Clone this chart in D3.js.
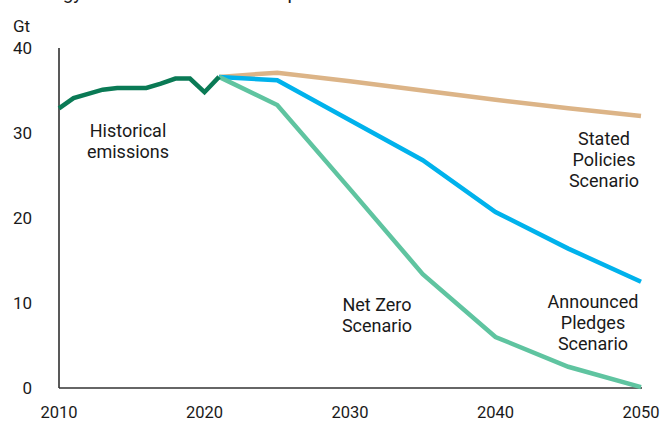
<!DOCTYPE html>
<html>
<head>
<meta charset="utf-8">
<script src="https://d3js.org/d3.v7.min.js"></script>
<style>
  body { margin: 0; background: #fff; }
  text { font-family: Roboto, "Noto Sans", sans-serif; fill: #1a1a1a; }
</style>
</head>
<body>
<div id="chart"></div>
<script>
// years and values (Gt CO2)
var histYears = [2010, 2011, 2012, 2013, 2014, 2015, 2016, 2017, 2018, 2019, 2020, 2021];
var histValues = [32.9, 34.1, 34.6, 35.1, 35.3, 35.3, 35.3, 35.8, 36.4, 36.4, 34.8, 36.6];

var scenYears = [2021, 2025, 2030, 2035, 2040, 2045, 2050];
var stepsValues = [36.6, 37.1, 36.1, 35.0, 33.9, 32.9, 32.0];
var apsValues = [36.6, 36.2, 31.5, 26.8, 20.7, 16.4, 12.5];
var nzeValues = [36.6, 33.3, 23.4, 13.4, 6.0, 2.5, 0.1];

var xTicks = [2010, 2020, 2030, 2040, 2050];
var yTicks = [0, 10, 20, 30, 40];

var W = 671, H = 423;
var margin = {top: 48, right: 30, bottom: 35, left: 59};

var svg = d3.select("#chart").append("svg")
  .attr("width", W)
  .attr("height", H);

var x = d3.scaleLinear().domain([2010, 2050]).range([margin.left, W - margin.right]);
var y = d3.scaleLinear().domain([0, 40]).range([H - margin.bottom, margin.top]);

// title, mostly cut off at the top edge of the picture
svg.append("text")
  .attr("x", 25).attr("y", -1)
  .style("font-size", "19px")
  .text("Energy sector CO2 emissions up to 2050");

// axes (lines only, no ticks)
svg.append("line")
  .attr("x1", x(2010)).attr("x2", x(2010))
  .attr("y1", y(40)).attr("y2", y(0))
  .attr("stroke", "#222").attr("stroke-width", 1.5);
svg.append("line")
  .attr("x1", x(2010)).attr("x2", x(2050) + 1)
  .attr("y1", y(0)).attr("y2", y(0))
  .attr("stroke", "#333").attr("stroke-width", 1.5);

svg.append("g").selectAll("text")
  .data(yTicks)
  .enter().append("text")
    .attr("x", 32)
    .attr("y", function(d) { return y(d); })
    .attr("dy", "0.35em")
    .attr("text-anchor", "end")
    .style("font-size", "17px")
    .text(function(d) { return d; });

svg.append("g").selectAll("text")
  .data(xTicks)
  .enter().append("text")
    .attr("x", function(d) { return x(d); })
    .attr("y", 418)
    .attr("text-anchor", "middle")
    .style("font-size", "16.5px")
    .text(function(d) { return d; });

svg.append("text")
  .attr("x", 13).attr("y", 32)
  .style("font-size", "17px")
  .text("Gt");

var line = d3.line()
  .x(function(d) { return x(d[0]); })
  .y(function(d) { return y(d[1]); });

function drawLine(years, values, color) {
  svg.append("path")
    .datum(d3.zip(years, values))
    .attr("fill", "none")
    .attr("stroke", color)
    .attr("stroke-width", 4.5)
    .attr("stroke-linejoin", "miter")
    .attr("d", line);
}

drawLine(scenYears, stepsValues, "#dcb487");
drawLine(scenYears, apsValues, "#00b2ec");
drawLine(scenYears, nzeValues, "#5fc4a0");
drawLine(histYears, histValues, "#0a7a55");

// series labels, one text per line
function label(cx, baseline, lines) {
  svg.append("g").selectAll("text")
    .data(lines)
    .enter().append("text")
      .attr("x", cx)
      .attr("y", function(d, i) { return baseline + i * 21; })
      .attr("text-anchor", "middle")
      .style("font-size", "18px")
      .text(function(d) { return d; });
}
label(128, 137, ["Historical", "emissions"]);
label(604, 145, ["Stated", "Policies", "Scenario"]);
label(377, 311, ["Net Zero", "Scenario"]);
label(593, 308, ["Announced", "Pledges", "Scenario"]);
</script>
</body>
</html>
